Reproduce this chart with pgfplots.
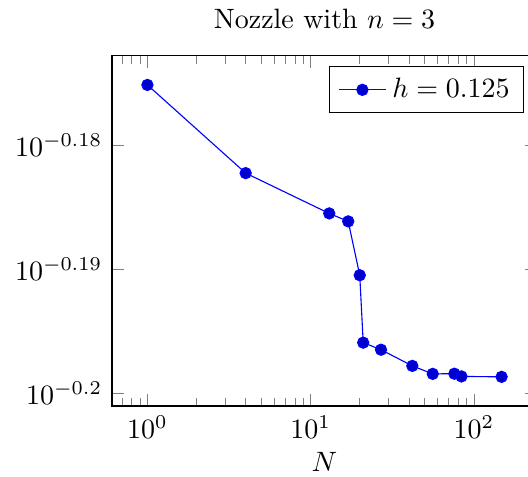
\documentclass[border=0pt]{standalone}
\usepackage{pgfplots}
\pgfplotsset{compat=1.18}
\begin{document}
\begin{tikzpicture}
\begin{loglogaxis}[
  scale only axis,
  width=151.8pt,
  height=125.1pt,
  title={Nozzle with $n=3$},
  xlabel={$N$},
  xlabel style={yshift=2pt},
  legend pos=north east,
]
% error versus number of terms N
\addplot+[blue, mark=*, mark options={fill=blue!80!black}] coordinates {
  (1,   0.668294)
  (4,   0.657479)
  (13,  0.652538)
  (17,  0.651568)
  (20,  0.645140)
  (21,  0.637057)
  (27,  0.636231)
  (42,  0.634347)
  (56,  0.633372)
  (76,  0.633407)
  (84,  0.633089)
  (148, 0.633066)
};
\addlegendentry{$h=0.125$}
\end{loglogaxis}
\pgfresetboundingbox
\path[use as bounding box]
  ([shift={(-40pt,-25.36pt)}]current axis.south west)
  rectangle ([shift={(148.57pt,19.9pt)}]current axis.north west);
\end{tikzpicture}
\end{document}
